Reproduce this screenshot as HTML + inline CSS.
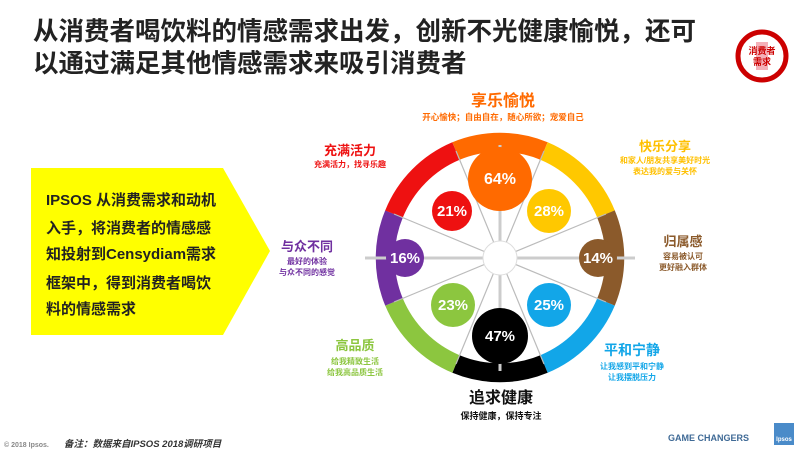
<!DOCTYPE html>
<html><head><meta charset="utf-8"><style>
body{margin:0;background:#fff}
svg{display:block}
text{font-family:"Liberation Sans","Noto Sans CJK SC",sans-serif;font-weight:bold}
</style></head><body>
<svg width="800" height="454" viewBox="0 0 800 454" xmlns="http://www.w3.org/2000/svg">
<text x="33" y="40" font-size="25.5" fill="#222">从消费者喝饮料的情感需求出发，创新不光健康愉悦，还可</text>
<text x="33" y="72" font-size="25.5" fill="#222">以通过满足其他情感需求来吸引消费者</text>
<circle cx="762" cy="56" r="24" fill="none" stroke="#c00" stroke-width="5"/>
<rect x="756" y="42" width="12" height="28" fill="#f4b0b8"/>
<text x="762" y="54" font-size="9" fill="#c00" text-anchor="middle">消费者</text>
<text x="762" y="65" font-size="9" fill="#c00" text-anchor="middle">需求</text>

<polygon points="31,168 223,168 270,251 223,335 31,335" fill="#ffff00"/>
<g font-size="15" fill="#222">
<text x="46" y="205">IPSOS 从消费需求和动机</text>
<text x="46" y="233">入手，将消费者的情感感</text>
<text x="46" y="259">知投射到Censydiam需求</text>
<text x="46" y="288">框架中，得到消费者喝饮</text>
<text x="46" y="314">料的情感需求</text>
</g>

<g fill="none" stroke-width="19">
<path d="M 456 151 A 115 115 0 0 1 544 151" stroke="#ff6a00"/>
<path d="M 544 151 A 115 115 0 0 1 606 214" stroke="#ffc800"/>
<path d="M 606 214 A 115 115 0 0 1 606 302" stroke="#8b5a2b"/>
<path d="M 606 302 A 115 115 0 0 1 544 364" stroke="#12a6e8"/>
<path d="M 544 364 A 115 115 0 0 1 456 364" stroke="#000"/>
<path d="M 456 364 A 115 115 0 0 1 394 302" stroke="#8cc63f"/>
<path d="M 394 302 A 115 115 0 0 1 394 214" stroke="#7030a0"/>
<path d="M 394 214 A 115 115 0 0 1 456 151" stroke="#ee1111"/>
</g>
<g stroke="#bbb" stroke-width="1.2">
<line x1="500" y1="145" x2="500" y2="371" stroke-width="3" stroke="#ccc"/>
<line x1="365" y1="258" x2="635" y2="258" stroke-width="3" stroke="#ccc"/>
<line x1="456" y1="151" x2="544" y2="364"/>
<line x1="544" y1="151" x2="456" y2="364"/>
<line x1="394" y1="214" x2="606" y2="302"/>
<line x1="606" y1="214" x2="394" y2="302"/>
</g>
<circle cx="500" cy="258" r="17" fill="#fff" stroke="#ddd"/>
<g font-size="15" fill="#fff" text-anchor="middle">
<circle cx="500" cy="179" r="32" fill="#ff6a00"/><text x="500" y="184" font-size="16">64%</text>
<circle cx="549" cy="211" r="22" fill="#ffc800"/><text x="549" y="216">28%</text>
<circle cx="598" cy="258" r="19" fill="#8b5a2b"/><text x="598" y="263">14%</text>
<circle cx="549" cy="305" r="22" fill="#12a6e8"/><text x="549" y="310">25%</text>
<circle cx="500" cy="336" r="28" fill="#000"/><text x="500" y="341">47%</text>
<circle cx="453" cy="305" r="22" fill="#8cc63f"/><text x="453" y="310">23%</text>
<circle cx="405" cy="258" r="19" fill="#7030a0"/><text x="405" y="263">16%</text>
<circle cx="452" cy="211" r="20" fill="#ee1111"/><text x="452" y="216">21%</text>
</g>
<g text-anchor="middle">
<text x="503" y="106" font-size="16" fill="#ff6a00">享乐愉悦</text>
<text x="503" y="120" font-size="8.5" fill="#ff6a00">开心愉快；自由自在，随心所欲；宠爱自己</text>
<text x="665" y="151" font-size="13" fill="#ffc000" font-weight="normal">快乐分享</text>
<text x="665" y="163" font-size="8" fill="#ffc000">和家人/朋友共享美好时光</text>
<text x="665" y="174" font-size="8" fill="#ffc000">表达我的爱与关怀</text>
<text x="683" y="246" font-size="13" fill="#8b5a2b" font-weight="normal">归属感</text>
<text x="683" y="259" font-size="8" fill="#8b5a2b">容易被认可</text>
<text x="683" y="270" font-size="8" fill="#8b5a2b">更好融入群体</text>
<text x="632" y="355" font-size="14" fill="#12a6e8">平和宁静</text>
<text x="632" y="369" font-size="8" fill="#12a6e8">让我感到平和宁静</text>
<text x="632" y="380" font-size="8" fill="#12a6e8">让我摆脱压力</text>
<text x="501" y="403" font-size="16" fill="#111">追求健康</text>
<text x="501" y="419" font-size="9" fill="#111">保持健康，保持专注</text>
<text x="355" y="350" font-size="13" fill="#8cc63f" font-weight="normal">高品质</text>
<text x="355" y="364" font-size="8" fill="#8cc63f">给我精致生活</text>
<text x="355" y="375" font-size="8" fill="#8cc63f">给我高品质生活</text>
<text x="307" y="251" font-size="13" fill="#7030a0">与众不同</text>
<text x="307" y="264" font-size="8" fill="#7030a0">最好的体验</text>
<text x="307" y="275" font-size="8" fill="#7030a0">与众不同的感觉</text>
<text x="350" y="155" font-size="13" fill="#ee1111">充满活力</text>
<text x="350" y="167" font-size="8" fill="#ee1111">充满活力，找寻乐趣</text>
</g>
<text x="4" y="447" font-size="7" fill="#888" font-weight="normal">© 2018 Ipsos.</text>
<text x="64" y="447" font-size="9.5" fill="#333" font-style="italic" font-weight="normal">备注：数据来自IPSOS 2018调研项目</text>
<text x="668" y="441" font-size="9" fill="#3f6a96">GAME CHANGERS</text>
<rect x="774" y="423" width="20" height="22" fill="#4a8bc9"/>
<text x="784" y="441" font-size="6" fill="#fff" text-anchor="middle" font-weight="normal">Ipsos</text>
</svg>
</body></html>
